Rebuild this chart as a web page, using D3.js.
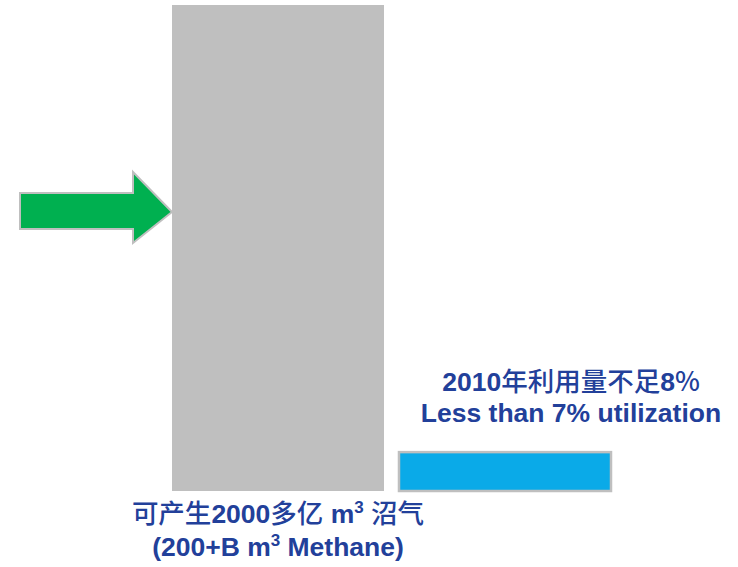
<!DOCTYPE html>
<html lang="zh">
<head>
  <meta charset="utf-8">
  <title>沼气利用</title>
  <script src="https://cdn.jsdelivr.net/npm/d3@7"></script>
  <style>
    body { margin: 0; background: #fff; }
    .lbl {
      font-family: "Liberation Sans", Arial, "Noto Sans CJK SC", sans-serif;
      font-weight: bold;
      font-size: 26.5px;
      fill: #22409a;
      text-anchor: middle;
    }
    .cjk { font-family: "Noto Sans CJK SC", sans-serif; font-weight: 500; }
  </style>
</head>
<body>
<script>
// data: share of potential methane (potential = 100)
var categories = ["potential", "utilized"];
var values = [100, 8];
var colors = ["#bfbfbf", "#0aaae8"];
// "^" marks a superscript run
var potentialLabel = ["可产生2000多亿 m^3 沼气", "(200+B m^3 Methane)"];
var utilLabel = ["2010年利用量不足8%", "Less than 7% utilization"];

var width = 738, height = 567;

var svg = d3.select("body").append("svg")
  .attr("width", width)
  .attr("height", height);

var x = d3.scaleBand()
  .domain(categories)
  .range([172, 611])
  .paddingInner(0.066);

var y = d3.scaleLinear()
  .domain([0, 100])
  .range([491, 5]);

// bars
svg.selectAll("rect.bar")
  .data(values)
  .enter()
  .append("rect")
  .attr("class", "bar")
  .attr("x", function(d, i) { return x(categories[i]); })
  .attr("y", function(d) { return y(d); })
  .attr("width", x.bandwidth())
  .attr("height", function(d) { return y(0) - y(d); })
  .attr("fill", function(d, i) { return colors[i]; })
  .attr("stroke", function(d, i) { return i == 1 ? "#bfbfbf" : "none"; })
  .attr("stroke-width", 2.5);

// green arrow pointing into the big bar
var tipX = x(categories[0]), tipY = 212;
var arrow = d3.path();
arrow.moveTo(20, tipY - 19);
arrow.lineTo(tipX - 39, tipY - 19);
arrow.lineTo(tipX - 39, tipY - 40);
arrow.lineTo(tipX, tipY);
arrow.lineTo(tipX - 39, tipY + 31);
arrow.lineTo(tipX - 39, tipY + 17);
arrow.lineTo(20, tipY + 17);
arrow.closePath();
svg.append("path")
  .attr("d", arrow.toString())
  .attr("fill", "#00b050")
  .attr("stroke", "#bfbfbf")
  .attr("stroke-width", 2);

// write a line, CJK runs in CJK font, ^x as superscript
function writeLine(str, cx, yy) {
  var t = svg.append("text").attr("class", "lbl").attr("x", cx).attr("y", yy);
  var parts = str.split(/(\^\d|[\u4e00-\u9fff]+|%(?=$))/).filter(function(s) { return s; });
  var raised = false;
  parts.forEach(function(p) {
    var s = t.append("tspan");
    if (raised) { s.attr("dy", 10); raised = false; }
    if (p[0] == "^") {
      s.attr("dy", -10).style("font-size", "17px").text(p.slice(1));
      raised = true;
    } else if (/[\u4e00-\u9fff]/.test(p) || (p == "%" && /[\u4e00-\u9fff]/.test(str))) {
      s.attr("class", "cjk").text(p);
    } else {
      s.text(p);
    }
  });
}

var cx0 = x(categories[0]) + x.bandwidth() / 2;
potentialLabel.forEach(function(s, i) { writeLine(s, cx0, 523 + i * 33); });
utilLabel.forEach(function(s, i) { writeLine(s, 571, 391 + i * 31); });
</script>
</body>
</html>
